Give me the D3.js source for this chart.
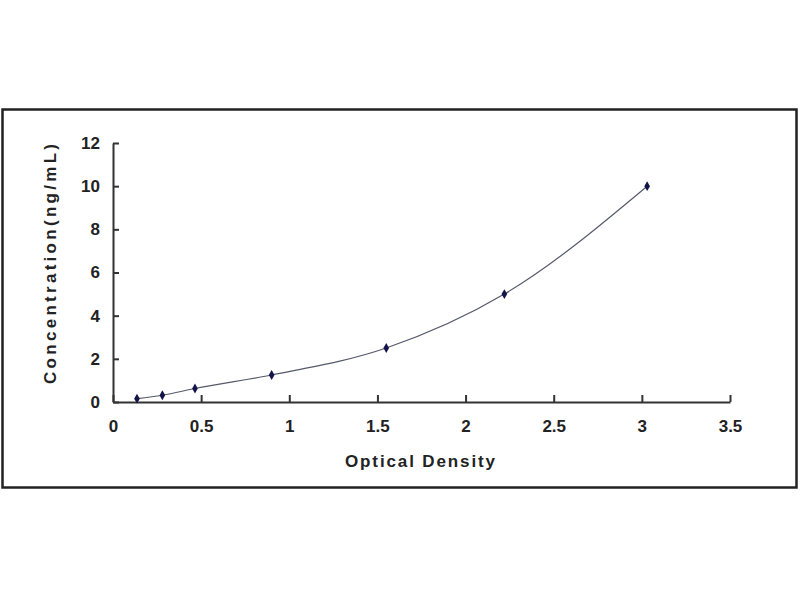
<!DOCTYPE html>
<html lang="en">
<head>
    <meta charset="UTF-8">
    <title>Standard Curve</title>
    <script src="https://d3js.org/d3.v7.min.js"></script>
    <style>
        body {
            margin: 0;
            background: #fff;
            font-family: Arial, "Liberation Sans", sans-serif;
        }
        svg {
            display: block;
        }
        .axis text {
            font-family: Arial, "Liberation Sans", sans-serif;
            font-weight: bold;
            font-size: 17px;
            fill: #222;
        }
        .axis path, .axis line {
            stroke: #333;
            stroke-width: 2;
        }
        .title {
            font-weight: bold;
            font-size: 17px;
            fill: #222;
        }
    </style>
</head>
<body>
<svg width="800" height="600"></svg>
<script>
    // standard curve readings
    const opticalDensity = [0.136, 0.28, 0.465, 0.9, 1.55, 2.22, 3.03];
    const concentration = [0.156, 0.313, 0.625, 1.25, 2.5, 5, 10];
    const xTicks = [0, 0.5, 1, 1.5, 2, 2.5, 3, 3.5];
    const yTicks = [0, 2, 4, 6, 8, 10, 12];

    const svg = d3.select("svg"),
        margin = { top: 143, right: 70, bottom: 198, left: 113 },
        width = 800 - margin.left - margin.right,
        height = 600 - margin.top - margin.bottom;

    // outer frame
    svg.append("rect")
        .attr("x", 2.5).attr("y", 109.5)
        .attr("width", 794).attr("height", 378)
        .attr("fill", "none")
        .attr("stroke", "#222")
        .attr("stroke-width", 2.5);

    const x = d3.scaleLinear().domain([0, 3.5]).range([0, width]);
    const y = d3.scaleLinear().domain([0, 12]).range([height, 0]);

    const g = svg.append("g").attr("transform", `translate(${margin.left},${margin.top})`);

    g.append("g")
        .attr("class", "axis")
        .attr("transform", `translate(0,${height})`)
        .call(d3.axisBottom(x).tickValues(xTicks).tickFormat(d3.format("")).tickSizeInner(-7).tickSizeOuter(0).tickPadding(18));

    g.append("g")
        .attr("class", "axis")
        .call(d3.axisLeft(y).tickValues(yTicks).tickSizeInner(-6).tickSizeOuter(0).tickPadding(13));

    const pts = opticalDensity.map((d, i) => [d, concentration[i]]);

    const line = d3.line()
        .x(d => x(d[0]))
        .y(d => y(d[1]))
        .curve(d3.curveMonotoneX);

    g.append("path")
        .datum(pts)
        .attr("fill", "none")
        .attr("stroke", "#555a6a")
        .attr("stroke-width", 1.2)
        .attr("d", line);

    g.selectAll(".pt")
        .data(pts)
        .enter().append("path")
        .attr("class", "pt")
        .attr("transform", d => `translate(${x(d[0])},${y(d[1])})`)
        .attr("d", d3.symbol(d3.symbolDiamond, 28))
        .attr("fill", "#14144a");

    svg.append("text")
        .attr("class", "title")
        .attr("x", 420)
        .attr("y", 467)
        .attr("text-anchor", "middle")
        .attr("textLength", 150)
        .attr("lengthAdjust", "spacing")
        .text("Optical Density");

    svg.append("text")
        .attr("class", "title")
        .attr("transform", "translate(56,264) rotate(-90)")
        .attr("text-anchor", "middle")
        .attr("textLength", 240)
        .attr("lengthAdjust", "spacing")
        .text("Concentration(ng/mL)");
</script>
</body>
</html>
